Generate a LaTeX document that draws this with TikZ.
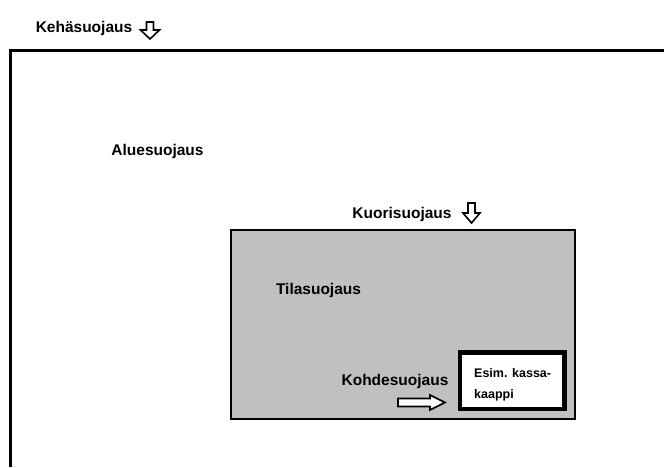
\documentclass[tikz,border=0pt]{standalone}
\usepackage{fontspec}
\setmainfont{Liberation Sans}
\usepackage{tikz}
\usetikzlibrary{calc}
\usetikzlibrary{positioning}

\definecolor{roomgray}{HTML}{C0C0C0}

\tikzset{
	label/.style={font=\bfseries\fontsize{15.5}{18}\selectfont, inner sep=0pt, anchor=base},
	small label/.style={font=\bfseries\fontsize{12.5}{21}\selectfont, inner sep=0pt, align=left, anchor=base west},
	arrowline/.style={line width=1.6pt, fill=white},
	pics/hollow arrow/.style args={#1/#2/#3/#4}{code={
		\draw[arrowline] (0,-#3) -- (#1,-#3) -- (#1,-#4) -- (#1+#2,0) -- (#1,#4) -- (#1,#3) -- (0,#3) -- cycle;
	}}
}

\begin{document}
\begin{tikzpicture}[x=1pt,y=-1pt]
		\useasboundingbox (0,0) rectangle (664,467);
		% alue
		\draw[line width=3pt] (664,50) -- (10,50) -- (10,467);
		% tila
		\draw[line width=2pt, fill=roomgray] (231,230) rectangle (575,419);
		% kohde
		\draw[line width=4.5pt, fill=white] (460,352.5) rectangle (564.5,409);

		\node[label] (kehasuojaus) at (84,32) {Kehäsuojaus};
		\node[label] (aluesuojaus) at (157.5,155) {Aluesuojaus};
		\node[label] (kuorisuojaus) at (402,218) {Kuorisuojaus};
		\node[label] (tilasuojaus) at (318.5,294) {Tilasuojaus};
		\node[label] (kohdesuojaus) at (395,385) {Kohdesuojaus};
		\node[small label] (kassakaappi) at (474,398) {Esim. kassa-\\kaappi};

		\pic[rotate=-90] at (150,22) {hollow arrow=8/9/3.5/9.5};
		\pic[rotate=-90] at (471.5,203) {hollow arrow=10/10/3.5/8.5};
		\pic at (398,402.5) {hollow arrow=32/15/4/7.5};
	\end{tikzpicture}
\end{document}
